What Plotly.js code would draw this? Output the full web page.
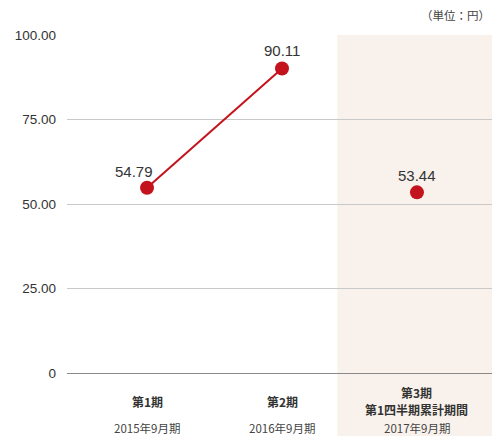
<!DOCTYPE html>
<html><head><meta charset="utf-8">
<script src="https://cdn.plot.ly/plotly-3.0.1.min.js"></script>
<style>html,body{margin:0;padding:0;background:#fff;}</style>
</head><body>
<div id="chart" style="width:492px;height:436px;"></div>
<script>
const categories = ["第1期", "第2期", "第3期<br>第1四半期累計期間"];
const periods = ["2015年9月期", "2016年9月期", "2017年9月期"];
const values = [54.79, 90.11, 53.44];
const labels = ["54.79", "90.11", "53.44"];
const tickVals = [0, 25, 50, 75, 100];
const tickText = ["0", "25.00", "50.00", "75.00", "100.00"];
const lineCount = 2; // first two periods are connected
const shadedFrom = 1.41; // category index where shaded period begins

const red = "#c3131d";
const idx = values.map((v,i)=>i);
const traces = [
  {x: idx.slice(0,lineCount), y: values.slice(0,lineCount), type:"scatter", mode:"lines",
   line:{color:red, width:2}, hoverinfo:"skip", showlegend:false},
  {x: idx, y: values, type:"scatter", mode:"markers",
   marker:{color:red, size:14}, cliponaxis:false, showlegend:false}
];

const labelShiftX = [-13, 0, 0];
const labelShiftY = [16, 18, 17];
const annotations = [];
values.forEach((v,i)=>{
  annotations.push({x:i, y:v, xref:"x", yref:"y", text:labels[i], showarrow:false,
    xanchor:"center", yanchor:"middle", xshift:labelShiftX[i], yshift:labelShiftY[i],
    font:{family:"Liberation Sans, Arial, sans-serif", size:15, color:"#333"}});
});
const plotH = 338, nameCenterPx = 401, lineGap = 17.6;
categories.forEach((c,i)=>{
  const lines = c.split("<br>");
  lines.forEach((ln,k)=>{
    const py = nameCenterPx + (k - (lines.length-1)/2) * lineGap;
    annotations.push({x:i, y:-(py-373)/plotH, xref:"x", yref:"paper", text:"<b>"+ln+"</b>", showarrow:false,
      yanchor:"middle", xanchor:"center", borderpad:0,
      font:{family:"Noto Sans CJK JP, sans-serif", size:12, color:"#333"}});
  });
  annotations.push({x:i, y:-(428-373)/plotH, xref:"x", yref:"paper", text:periods[i], showarrow:false,
    yanchor:"middle", xanchor:"center", borderpad:0,
    font:{family:"Noto Sans CJK JP, sans-serif", size:11.5, color:"#444"}});
});
annotations.push({x:1, y:1.059, xref:"paper", yref:"paper", text:"（単位：円）", showarrow:false,
  xanchor:"right", yanchor:"middle",
  font:{family:"Noto Sans CJK JP, sans-serif", size:11.5, color:"#444"}});

const layout = {
  width:492, height:436,
  margin:{l:67, r:0, t:35, b:63},
  paper_bgcolor:"#fff", plot_bgcolor:"rgba(0,0,0,0)",
  xaxis:{range:[-0.593, 2.556], showticklabels:false, showgrid:false, zeroline:false, ticks:"", fixedrange:true},
  yaxis:{range:[0,100], tickvals:tickVals, ticktext:tickText, showgrid:true, gridcolor:"#c9c9c9", gridwidth:1,
    zeroline:true, zerolinecolor:"#8a8a8a", zerolinewidth:1, ticks:"", ticklabelstandoff:10,
    tickfont:{family:"Liberation Sans, Arial, sans-serif", size:13.5, color:"#333"}, fixedrange:true},
  shapes:[{type:"rect", xref:"x", yref:"paper", x0:shadedFrom, x1:3, y0:-0.2, y1:1,
    fillcolor:"#f9f2ec", line:{width:0}, layer:"below"}],
  annotations: annotations
};
Plotly.newPlot("chart", traces, layout, {displayModeBar:false, staticPlot:true});
</script>
</body></html>
